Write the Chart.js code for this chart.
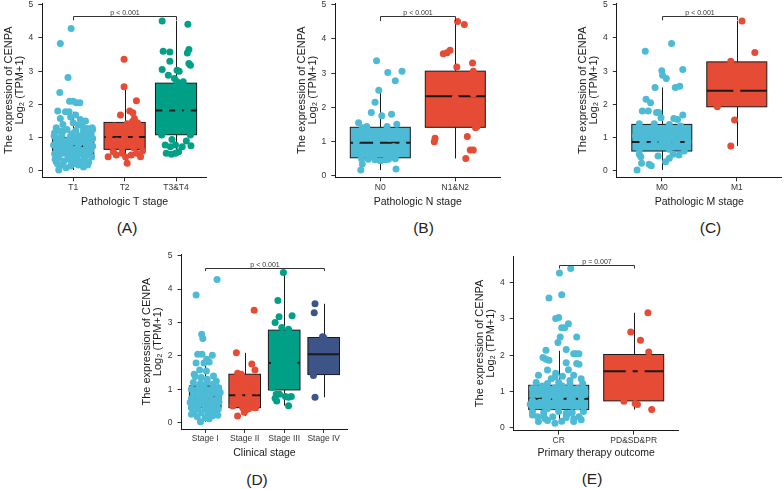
<!DOCTYPE html>
<html><head><meta charset="utf-8">
<script src="https://cdn.jsdelivr.net/npm/chart.js@4.4.1/dist/chart.umd.min.js"></script>
<style>
html,body{margin:0;padding:0;background:#fff}
body{width:784px;height:489px;overflow:hidden;position:relative;font-family:"Liberation Sans",Arial,sans-serif}
canvas{position:absolute}
.lab{position:absolute;font-size:15.5px;color:#222;transform:translate(-50%,-50%);white-space:nowrap}
</style></head><body>
<div class="lab" style="left:127px;top:227.5px">(A)</div>
<div class="lab" style="left:423.5px;top:227.5px">(B)</div>
<div class="lab" style="left:710.5px;top:227.5px">(C)</div>
<div class="lab" style="left:257px;top:480px">(D)</div>
<div class="lab" style="left:592px;top:479px">(E)</div>
<script>
// ---------------- DATA ----------------
const yTitle = ['The expression of CENPA', 'Log\u2082 (TPM+1)'];

// Panel A
const aCategories = ['T1', 'T2', 'T3&T4'];
const aXTitle = 'Pathologic T stage';
const aBoxes = [[0.03,0.46,0.74,1.01,1.78],[0.23,0.65,1.02,1.46,2.53],[0.50,1.09,1.82,2.64,4.51]];
const aPValue = 'p < 0.001';
const aT1Values = [4.28,3.83,2.81,2.36,2.10,2.10,2.05,2.05,1.80,1.78,
  1.78,1.68,1.58,1.62,1.55,1.50,1.30,1.28,1.30,1.40,
  1.45,1.38,1.15,1.12,1.22,1.25,1.22,1.20,1.18,1.05,
  1.08,1.05,1.06,1.02,0.98,0.92,0.90,0.93,0.88,0.90,
  0.78,0.80,0.76,0.78,0.76,0.74,0.66,0.64,0.66,0.62,
  0.62,0.52,0.54,0.50,0.52,0.50,0.40,0.42,0.38,0.40,
  0.42,0.28,0.30,0.27,0.30,0.26,0.18,0.15,0.18,0.18,
  0.03,0.12,0.10,1.12,0.98,0.85,0.70,0.58,0.46,0.34,
  0.22,1.00,0.72,1.35,1.20,1.10,0.95,0.85,0.70,0.60,
  0.48,0.35,0.25,1.25,1.00,0.80,0.55,0.32,0.20];
const aT1Jitter = [-0.04,-0.25,-0.10,-0.26,-0.07,0.00,0.06,0.13,-0.30,-0.15,
  -0.08,0.05,-0.25,-0.05,0.14,0.24,0.37,0.28,-0.33,-0.20,
  0.00,0.10,-0.36,0.35,-0.30,-0.12,0.05,0.20,0.30,-0.37,
  -0.22,-0.05,0.12,0.27,0.38,-0.32,-0.15,0.00,0.18,0.33,
  -0.38,-0.24,-0.06,0.10,0.26,0.38,-0.30,-0.12,0.05,0.20,
  0.34,-0.36,-0.20,-0.02,0.14,0.30,-0.28,-0.10,0.07,0.22,
  0.36,-0.33,-0.18,0.00,0.16,0.30,-0.22,-0.05,0.10,0.28,
  -0.28,0.20,-0.14,-0.02,-0.28,0.25,-0.15,0.27,0.05,-0.06,
  0.02,0.20,0.32,0.18,-0.20,0.22,-0.08,0.12,-0.30,-0.02,
  0.25,-0.35,0.08,0.38,0.05,-0.15,0.30,0.20,-0.30];
const aT2Values = [3.36,2.53,2.11,1.80,1.75,1.68,1.58,1.48,1.45,1.42,
  1.35,1.30,1.20,1.15,1.05,1.00,0.98,0.90,0.85,0.80,
  0.75,0.70,0.68,0.43,0.48,0.53,0.23,0.48,0.53,0.43,
  0.58,0.60,0.42];
const aT2Jitter = [-0.01,-0.01,0.23,0.10,0.16,-0.08,0.19,0.15,0.25,0.05,
  -0.20,0.30,-0.10,0.12,-0.30,0.00,0.22,-0.15,0.30,0.08,
  -0.25,0.18,-0.05,-0.32,-0.16,-0.05,0.05,0.13,0.23,0.31,
  -0.22,0.35,0.02];
const aT34Values = [4.51,4.41,3.65,3.55,3.60,3.58,3.30,3.23,3.18,3.05,
  3.03,3.00,2.88,2.78,2.68,2.68,2.40,2.30,2.10,2.00,
  1.70,1.60,1.50,1.30,1.20,1.08,1.08,0.78,0.73,0.78,
  0.73,0.76,0.53,0.50,0.53,0.58,0.90,0.95,1.82,1.80,
  1.80];
const aT34Jitter = [-0.27,0.23,0.25,0.22,-0.25,-0.12,-0.12,0.25,0.28,-0.27,
  0.02,0.06,-0.15,-0.03,0.02,0.14,-0.20,0.10,0.30,-0.10,
  0.20,-0.30,0.00,0.15,-0.20,-0.28,0.28,-0.21,-0.11,-0.01,
  0.12,0.29,-0.19,-0.09,-0.01,0.05,0.20,-0.08,-0.20,0.05,
  0.22];

// Panel B
const bCategories = ['N0', 'N1&N2'];
const bXTitle = 'Pathologic N stage';
const bBoxes = [[0.17,0.53,0.97,1.42,2.50],[0.51,1.42,2.33,3.06,4.51]];
const bPValue = 'p < 0.001';
const bN0Values = [3.36,3.02,3.06,2.78,2.50,2.15,1.85,1.76,1.80,1.55,
  1.51,1.44,1.41,1.44,1.30,1.30,1.25,1.15,1.10,1.00,
  0.95,0.97,0.85,0.80,0.75,0.70,0.65,0.60,0.60,0.49,
  0.47,0.44,0.47,0.49,0.50,0.35,0.17,0.20,0.50];
const bN0Jitter = [-0.05,0.10,0.29,0.20,-0.02,-0.07,-0.12,0.02,0.15,-0.29,
  0.22,0.09,-0.24,-0.18,-0.30,0.00,0.25,-0.15,0.12,-0.32,
  0.30,-0.05,0.18,-0.20,0.05,0.32,-0.30,-0.10,0.15,-0.16,
  -0.07,0.00,0.07,0.11,0.20,-0.24,-0.26,0.21,-0.25];
const bN12Values = [4.51,4.42,3.57,3.60,3.67,3.30,3.18,3.06,2.29,2.39,
  1.41,1.44,1.10,1.00,1.15,0.76,0.76,0.51,2.60,1.90];
const bN12Jitter = [0.03,0.12,-0.16,-0.11,-0.07,0.23,0.02,0.24,0.00,0.24,
  0.27,0.29,-0.27,-0.28,0.16,0.20,0.24,0.14,-0.20,0.10];

// Panel C
const cCategories = ['M0', 'M1'];
const cXTitle = 'Pathologic M stage';
const cBoxes = [[0.03,0.60,0.87,1.40,2.51],[0.75,1.93,2.41,3.28,4.51]];
const cPValue = 'p < 0.001';
const cM0Values = [3.83,3.60,3.01,2.88,2.78,3.05,2.51,2.51,2.55,2.16,
  2.05,1.80,1.80,1.76,1.76,1.68,1.60,1.58,1.55,1.42,
  1.42,1.40,1.35,1.25,1.20,1.15,1.05,1.00,0.95,0.90,
  0.88,0.85,0.75,0.75,0.65,0.65,0.60,0.03,0.20,0.16,
  0.23,0.28,0.38,0.48,0.43,0.50,0.45,0.50,0.87,0.87,
  0.87,0.87];
const cM0Jitter = [0.13,-0.22,0.00,0.01,0.06,0.28,-0.09,0.18,0.24,-0.21,
  -0.15,-0.26,-0.18,-0.07,-0.04,0.28,-0.01,0.16,0.21,-0.30,
  -0.10,0.10,0.25,-0.20,0.05,0.30,-0.35,-0.05,0.15,-0.25,
  0.35,0.00,-0.15,0.20,-0.30,0.10,0.30,-0.33,-0.17,-0.14,
  -0.27,0.05,0.10,0.23,-0.28,-0.30,-0.05,0.15,-0.25,-0.10,
  0.08,0.20];
const cM1Values = [4.51,3.56,3.30,2.43,1.93,1.53,0.75];
const cM1Jitter = [0.07,0.24,-0.08,0.00,-0.26,-0.03,-0.08];

// Panel D
const dCategories = ['Stage I', 'Stage II', 'Stage III', 'Stage IV'];
const dXTitle = 'Clinical stage';
const dBoxes = [[0.03,0.45,0.75,1.10,1.75],[0.20,0.45,0.82,1.45,2.09],[0.51,0.98,1.79,2.77,4.50],[0.76,1.44,2.05,2.55,3.56]];
const dPValue = 'p < 0.001';
const dS1Values = [4.29,3.82,2.65,2.52,2.05,2.05,2.02,1.90,1.79,1.79,
  1.82,1.58,1.55,1.40,1.45,1.25,1.35,1.20,1.18,1.22,
  1.15,1.05,1.00,0.98,1.00,0.95,0.85,0.85,0.82,0.88,
  0.72,0.70,0.70,0.68,0.72,0.58,0.58,0.55,0.56,0.45,
  0.42,0.45,0.42,0.40,0.30,0.30,0.30,0.28,0.18,0.15,
  0.20,0.03,1.10,0.62,0.35,1.30,1.10,0.95,0.78,0.65,
  0.50,0.38,0.25,0.12,1.38,0.90,0.60,0.48,0.22];
const dS1Jitter = [0.30,-0.23,-0.09,-0.06,-0.19,-0.08,0.18,0.04,-0.23,-0.03,
  0.10,-0.14,0.03,0.21,-0.28,0.28,-0.10,-0.30,-0.12,0.05,
  0.20,0.33,-0.35,-0.20,0.00,0.15,-0.28,-0.08,0.10,0.28,
  -0.35,-0.18,0.00,0.18,0.33,-0.28,-0.08,0.10,0.25,-0.35,
  -0.18,0.00,0.18,0.33,-0.28,-0.10,0.08,0.25,-0.20,0.00,
  0.18,-0.12,-0.15,0.35,0.15,0.05,-0.05,0.30,-0.10,0.25,
  -0.22,0.05,-0.35,0.10,-0.25,0.38,-0.38,0.28,0.32];
const dS2Values = [3.37,2.09,1.76,1.58,1.48,1.45,1.30,1.20,1.05,0.95,
  0.70,0.60,0.50,0.20,0.31,0.38,0.46,0.45,0.45,0.42,
  0.82,0.82];
const dS2Jitter = [0.24,-0.21,0.18,0.26,-0.18,-0.09,0.10,-0.25,0.05,0.30,
  -0.10,0.20,-0.30,-0.18,-0.01,0.03,0.20,0.28,-0.05,0.10,
  -0.15,0.10];
const dS3Values = [4.50,3.66,3.17,3.20,3.00,2.85,2.80,2.50,2.30,2.10,
  1.80,1.78,1.79,1.50,1.30,0.85,0.85,0.73,0.78,0.76,
  0.78,0.65,0.51,1.05,1.79,1.80];
const dS3Jitter = [-0.02,-0.16,-0.13,0.20,-0.23,-0.06,0.11,0.20,-0.15,0.05,
  -0.25,0.00,0.25,-0.10,0.15,-0.20,-0.12,-0.23,0.03,0.11,
  0.18,-0.19,0.11,-0.30,-0.10,0.12];
const dS4Values = [3.56,3.29,2.57,2.55,1.41,0.76];
const dS4Jitter = [-0.22,-0.24,-0.03,0.00,-0.26,-0.22];

// Panel E
const eCategories = ['CR', 'PD&SD&PR'];
const eXTitle = 'Primary therapy outcome';
const eBoxes = [[0.17,0.50,0.80,1.17,2.12],[0.50,0.74,1.56,2.02,3.17]];
const ePValue = 'p = 0.007';
const eCRValues = [4.27,4.39,3.67,3.58,3.01,3.04,2.87,2.76,2.76,2.50,
  2.50,2.35,2.14,2.16,2.04,2.04,2.04,1.94,1.89,1.86,
  1.79,1.77,1.75,1.59,1.50,1.60,1.45,1.45,1.42,1.35,
  1.35,1.25,1.22,1.25,1.20,1.22,1.08,1.05,1.10,1.05,
  1.08,0.92,0.90,0.92,0.90,0.92,0.75,0.78,0.75,0.78,
  0.72,0.60,0.60,0.62,0.58,0.45,0.42,0.45,0.42,0.45,
  0.30,0.30,0.28,0.30,0.17,0.18,0.17,0.20,0.22,0.80,
  0.80,0.80,1.15,1.00,0.85,0.68,0.52,0.38,0.25,1.30,
  1.15,0.98,0.85,0.70,0.55,0.40,0.32,0.25,1.40,1.00,
  0.65,0.35,0.12];
const eCRJitter = [0.01,0.16,0.04,-0.13,-0.04,0.00,0.13,0.08,0.04,0.02,
  0.24,-0.01,-0.17,0.10,0.20,0.23,0.27,-0.21,-0.17,-0.13,
  0.10,0.24,0.27,-0.15,-0.04,0.13,-0.27,0.20,0.05,0.30,
  -0.10,-0.30,-0.15,0.00,0.15,0.32,-0.35,-0.20,-0.05,0.10,
  0.25,-0.28,-0.10,0.05,0.20,0.35,-0.35,-0.18,0.00,0.15,
  0.30,-0.28,-0.10,0.08,0.25,-0.35,-0.20,0.00,0.18,0.33,
  -0.28,-0.08,0.10,0.27,-0.27,0.04,0.20,-0.15,0.30,-0.15,
  0.02,0.18,-0.22,0.18,-0.05,0.22,-0.15,0.12,-0.18,0.15,
  0.05,-0.30,0.30,-0.25,0.00,0.10,-0.20,0.20,-0.05,0.35,
  -0.38,-0.35,-0.05];
const ePDValues = [3.17,2.64,2.41,2.09,0.73,0.67,0.64,0.50,1.56,1.55];
const ePDJitter = [0.19,-0.04,0.09,0.20,-0.13,0.02,0.05,0.24,-0.06,0.10];

// ---------------- STYLE / LAYOUT ----------------
const BLUE = '#4DBBD5', RED = '#E64B35', GREEN = '#00A087', NAVY = '#3C5488';
const FONT = '"Liberation Sans", Arial, sans-serif';
Chart.defaults.font.family = FONT;
const YT = 11; // y title font size / line height

const panels = [
  {cats:aCategories, xTitle:aXTitle, boxes:aBoxes, p:aPValue, bracket:[4.65,4.53],
   groups:[[aT1Values,aT1Jitter],[aT2Values,aT2Jitter],[aT34Values,aT34Jitter]], colors:[BLUE,RED,GREEN],
   left:42.3, right:206.9, top:3, bottom:177.3, ymin:-0.19, ymax:5.05, titleX:8.3, xTitleY:201.7},
  {cats:bCategories, xTitle:bXTitle, boxes:bBoxes, p:bPValue, bracket:[4.66,4.52],
   groups:[[bN0Values,bN0Jitter],[bN12Values,bN12Jitter]], colors:[BLUE,RED],
   left:335.3, right:500.3, top:3, bottom:177.3, ymin:-0.04, ymax:5.05, titleX:301.3, xTitleY:201.7},
  {cats:cCategories, xTitle:cXTitle, boxes:cBoxes, p:cPValue, bracket:[4.66,4.53],
   groups:[[cM0Values,cM0Jitter],[cM1Values,cM1Jitter]], colors:[BLUE,RED],
   left:616.8, right:781.8, top:3, bottom:177.3, ymin:-0.19, ymax:5.05, titleX:582.5, xTitleY:201.7},
  {cats:dCategories, xTitle:dXTitle, boxes:dBoxes, p:dPValue, bracket:[4.64,4.54],
   groups:[[dS1Values,dS1Jitter],[dS2Values,dS2Jitter],[dS3Values,dS3Jitter],[dS4Values,dS4Jitter]], colors:[BLUE,RED,GREEN,NAVY],
   left:181.5, right:347.4, top:254.5, bottom:429, ymin:-0.19, ymax:5.036, titleX:146.7, xTitleY:452.7},
  {cats:eCategories, xTitle:eXTitle, boxes:eBoxes, p:ePValue, bracket:[4.50,4.39],
   groups:[[eCRValues,eCRJitter],[ePDValues,ePDJitter]], colors:[BLUE,RED],
   left:513.7, right:678.7, top:256, bottom:430.7, ymin:-0.083, ymax:4.737, titleX:479.5, xTitleY:453}
];

function boxPlugin(cfg, idx) {
  return {
    id: 'boxes' + idx,
    beforeDatasetsDraw(chart) {
      const {ctx} = chart; const x = chart.scales.x, y = chart.scales.y;
      ctx.save();
      cfg.boxes.forEach((b, i) => {
        const cx = Math.round(x.getPixelForValue(i + 1)) + 0.5;
        const l = x.getPixelForValue(i + 1 - 0.4), r = x.getPixelForValue(i + 1 + 0.4);
        const [lo, q1, med, q3, hi] = b.map(v => y.getPixelForValue(v));
        ctx.strokeStyle = '#1a1a1a'; ctx.lineWidth = 1;
        ctx.beginPath(); ctx.moveTo(cx, lo); ctx.lineTo(cx, q1); ctx.moveTo(cx, q3); ctx.lineTo(cx, hi); ctx.stroke();
        ctx.fillStyle = cfg.colors[i];
        ctx.fillRect(l, q3, r - l, q1 - q3);
        ctx.strokeRect(l, q3, r - l, q1 - q3);
        ctx.lineWidth = 2;
        ctx.beginPath(); ctx.moveTo(l, med); ctx.lineTo(r, med); ctx.stroke();
      });
      ctx.restore();
    },
    afterDatasetsDraw(chart) {
      const {ctx} = chart; const x = chart.scales.x, y = chart.scales.y;
      const x1 = Math.round(x.getPixelForValue(1)) + 0.5;
      const x2 = Math.round(x.getPixelForValue(cfg.cats.length)) + 0.5;
      const yt = Math.round(y.getPixelForValue(cfg.bracket[0])) + 0.5;
      const yb = y.getPixelForValue(cfg.bracket[1]);
      ctx.save();
      ctx.strokeStyle = '#333'; ctx.lineWidth = 1;
      ctx.beginPath(); ctx.moveTo(x1, yb); ctx.lineTo(x1, yt); ctx.lineTo(x2, yt); ctx.lineTo(x2, yb); ctx.stroke();
      ctx.fillStyle = '#333'; ctx.font = '7px ' + FONT; ctx.textAlign = 'center'; ctx.textBaseline = 'alphabetic';
      ctx.fillText(cfg.p, (x1 + x2) / 2, yt - 1.5);
      ctx.restore();
    }
  };
}

panels.forEach((p, idx) => {
  const cv = document.createElement('canvas');
  const cLeft = Math.round(p.titleX - YT / 2);
  const cTop = Math.round(p.top - 8);
  const cRight = Math.round(p.right + 6);
  const hx = p.xTitleY + 5.25 - p.bottom;
  const cBottom = Math.round(p.xTitleY + 5.25 + 2);
  const W = cRight - cLeft, H = cBottom - cTop;
  const wy = p.left - cLeft;
  cv.width = W; cv.height = H;
  cv.style.left = cLeft + 'px'; cv.style.top = cTop + 'px';
  cv.style.width = W + 'px'; cv.style.height = H + 'px';
  document.body.appendChild(cv);
  const datasets = p.groups.map((g, i) => ({
    data: g[0].map((v, k) => ({x: i + 1 + (g[1][k] ?? 0), y: v})),
    backgroundColor: p.colors[i], borderWidth: 0, pointRadius: 3.5, pointHoverRadius: 3.5
  }));
  const tickFont = {family: FONT, size: 8.5};
  const xTitleFont = {family: FONT, size: 10.5, lineHeight: 1};
  const yTitleFont = {family: FONT, size: YT, lineHeight: 1};
  new Chart(cv, {
    type: 'scatter',
    data: {datasets},
    options: {
      responsive: false, animation: false, devicePixelRatio: 1,
      layout: {autoPadding: false, padding: {left: 0, top: p.top - cTop, right: cRight - p.right, bottom: H - (p.bottom + hx - cTop)}},
      plugins: {legend: {display: false}, tooltip: {enabled: false}},
      events: [],
      scales: {
        x: {
          type: 'linear', min: 0.4, max: p.cats.length + 0.6,
          afterBuildTicks: s => { s.ticks = p.cats.map((c, i) => ({value: i + 1})); },
          afterFit: s => { s.height = hx; s.paddingLeft = 0; s.paddingRight = 0; },
          ticks: {callback: v => p.cats[Math.round(v) - 1], font: tickFont, color: '#333', padding: 1, maxRotation: 0, autoSkip: false},
          grid: {display: true, drawOnChartArea: false, drawTicks: true, tickLength: 4, color: '#333'},
          border: {display: true, color: '#1a1a1a', width: 1},
          title: {display: true, text: p.xTitle, font: xTitleFont, color: '#1a1a1a', padding: 0}
        },
        y: {
          type: 'linear', min: p.ymin, max: p.ymax,
          afterFit: s => { s.width = wy; s.paddingTop = 0; s.paddingBottom = 0; },
          ticks: {stepSize: 1, includeBounds: false, font: tickFont, color: '#333', padding: 5},
          grid: {display: true, drawOnChartArea: false, drawTicks: true, tickLength: 4, color: '#333'},
          border: {display: true, color: '#1a1a1a', width: 1},
          title: {display: true, text: yTitle, font: yTitleFont, color: '#1a1a1a', padding: 0}
        }
      }
    },
    plugins: [boxPlugin(p, idx)]
  });
});
</script>
</body></html>
